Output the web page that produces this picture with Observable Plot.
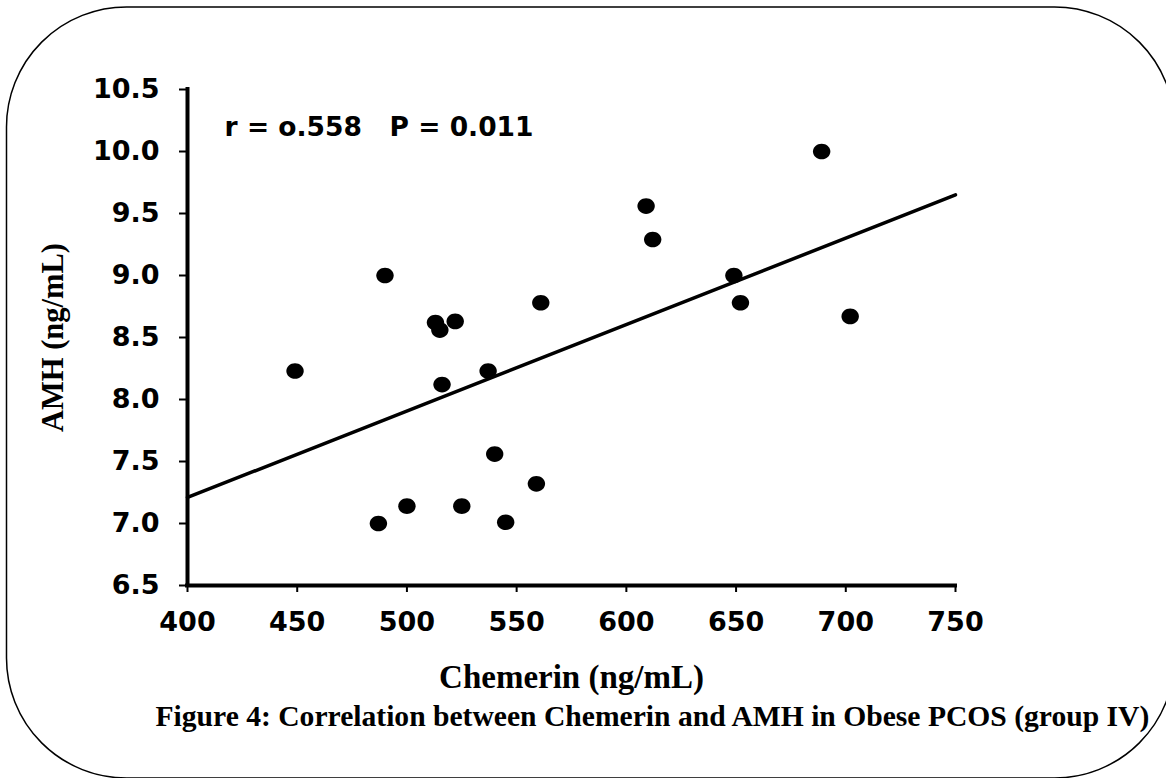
<!DOCTYPE html>
<html>
<head>
<meta charset="utf-8">
<script src="https://cdn.jsdelivr.net/npm/d3@7"></script>
<script src="https://cdn.jsdelivr.net/npm/@observablehq/plot@0.6"></script>
<style>
  html, body { margin: 0; padding: 0; background: #fff; overflow: hidden; }
  #wrap { position: relative; width: 1166px; height: 778px; overflow: hidden; }
  #frame { position: absolute; left: 0; top: 0; pointer-events: none; }
</style>
</head>
<body>
<div id="wrap">
  <svg id="frame" width="1166" height="778" viewBox="0 0 1166 778">
    <rect x="6.5" y="7" width="1168" height="771" rx="120" ry="120" fill="none" stroke="#000" stroke-width="1.5"></rect>
  </svg>
</div>
<script>
// Data
const chemerin = [449, 487, 490, 500, 513, 515, 516, 522, 525, 537, 540, 545, 559, 561, 609, 612, 649, 652, 689, 702];
const amh      = [8.23, 7.00, 9.00, 7.14, 8.62, 8.56, 8.12, 8.63, 7.14, 8.23, 7.56, 7.01, 7.32, 8.78, 9.56, 9.29, 9.00, 8.78, 10.00, 8.67];
// Regression (trend) line endpoints
const trendX = [400, 750];
const trendY = [7.21, 9.65];
// Axis ticks
const xTicks = [400, 450, 500, 550, 600, 650, 700, 750];
const yTicks = [6.5, 7.0, 7.5, 8.0, 8.5, 9.0, 9.5, 10.0, 10.5];
// Texts
const statText = "r = o.558\u00A0\u00A0\u00A0P = 0.011";
const xTitle = "Chemerin (ng/mL)";
const yTitle = "AMH (ng/mL)";
const caption = "Figure 4: Correlation between Chemerin and AMH in Obese PCOS (group IV)";

const points = chemerin.map((c, i) => ({chemerin: c, amh: amh[i]}));
const trend = trendX.map((x, i) => ({x, y: trendY[i]}));

const ellipse = {
  draw(ctx, size) {
    const r = Math.sqrt(size / Math.PI);
    const rx = r, ry = r * 0.9, k = 0.5523;
    ctx.moveTo(rx, 0);
    ctx.bezierCurveTo(rx, ry * k, rx * k, ry, 0, ry);
    ctx.bezierCurveTo(-rx * k, ry, -rx, ry * k, -rx, 0);
    ctx.bezierCurveTo(-rx, -ry * k, -rx * k, -ry, 0, -ry);
    ctx.bezierCurveTo(rx * k, -ry, rx, -ry * k, rx, 0);
    ctx.closePath();
  }
};

const sans = "DejaVu Sans, Verdana, sans-serif";
const serif = "Liberation Serif, Times New Roman, serif";

const chart = Plot.plot({
  width: 1166,
  height: 778,
  marginLeft: 187,
  marginRight: 211,
  marginTop: 89,
  marginBottom: 193,
  style: {background: "transparent"},
  x: {domain: [400, 750], label: null},
  y: {domain: [6.5, 10.5], label: null},
  marks: [
    Plot.axisY({ticks: yTicks, tickFormat: d => d.toFixed(1), tickSize: 8, tickPadding: 20,
      strokeWidth: 2, fontSize: 27, fontWeight: "bold", fontFamily: sans, fill: "#000", label: null}),
    Plot.axisX({ticks: xTicks, tickFormat: d => String(d), tickSize: 7, tickPadding: 19,
      strokeWidth: 2, fontSize: 27, fontWeight: "bold", fontFamily: sans, fill: "#000", label: null}),
    Plot.ruleX([400], {stroke: "#000", strokeWidth: 4, strokeLinecap: "square"}),
    Plot.ruleY([6.5], {stroke: "#000", strokeWidth: 4, strokeLinecap: "square"}),
    Plot.line(trend, {x: "x", y: "y", stroke: "#000", strokeWidth: 3.5}),
    Plot.dot(points, {x: "chemerin", y: "amh", r: 8.7, symbol: ellipse, fill: "#000", stroke: "none"}),
    Plot.text([statText], {x: 416.9, y: 10.19, text: d => d, textAnchor: "start", lineAnchor: "middle",
      fontSize: 26.5, fontWeight: "bold", fontFamily: sans, fill: "#000"}),
    Plot.text([xTitle], {frameAnchor: "bottom", text: d => d, textAnchor: "middle", lineAnchor: "middle", dy: 92,
      fontSize: 33, fontWeight: "bold", fontFamily: serif, fill: "#000"}),
    Plot.text([yTitle], {frameAnchor: "left", text: d => d, rotate: -90, textAnchor: "middle", lineAnchor: "middle", dx: -134,
      fontSize: 30.5, fontWeight: "bold", fontFamily: serif, fill: "#000"}),
    Plot.text([caption], {frameAnchor: "bottom-left", text: d => d, textAnchor: "start", lineAnchor: "middle",
      dx: -32, dy: 131, fontSize: 29.6, fontWeight: "bold", fontFamily: serif, fill: "#000"})
  ]
});
const wrap = document.getElementById("wrap");
wrap.insertBefore(chart, wrap.firstChild);
</script>
</body>
</html>
